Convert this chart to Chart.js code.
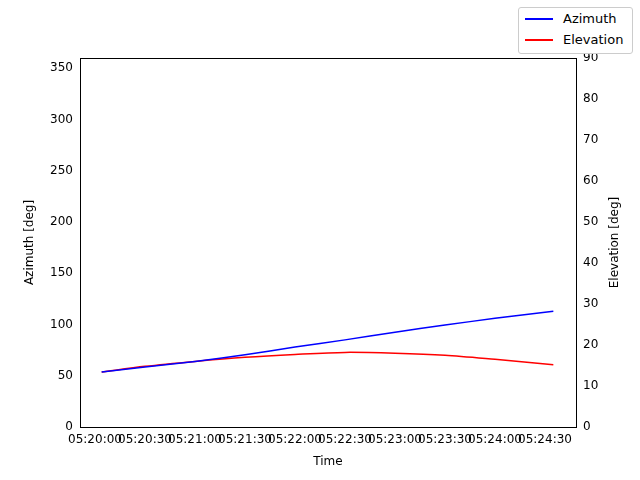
<!DOCTYPE html><html><head><script src="https://cdn.jsdelivr.net/npm/chart.js@4"></script>
<style>body{margin:0;background:#fff}#w{position:relative;width:640px;height:480px}
#lg{position:absolute;left:518px;top:7px;width:113px;height:45px;border:1px solid #ccc;border-radius:3px;background:#fff;font:13px "DejaVu Sans";}
#lg div{position:absolute;left:6px;display:flex;align-items:center}
#lg span{display:inline-block;width:28px;height:2px;margin-right:10px}</style></head><body>
<div id="w"><canvas id="c" width="640" height="480"></canvas>
<div id="lg"><div style="top:3px"><span style="background:blue"></span>Azimuth</div><div style="top:24px"><span style="background:red"></span>Elevation</div></div></div>
<script>
const times=[4,30,60,90,120,150,180,210,240,275];
const azimuth=[53.7,58.5,64,70.5,78,85,92.5,99.5,106,113];
const elevation=[13.4,14.8,16.0,17.0,17.7,18.2,18.0,17.5,16.5,15.2];
const xTicks=[0,30,60,90,120,150,180,210,240,270];
const azTicks=[0,50,100,150,200,250,300,350];
function fmt(s){const m=20+Math.floor(s/60),ss=s%60;return '05:'+m+':'+String(ss).padStart(2,'0');}
const f={family:'DejaVu Sans',size:12};
new Chart(document.getElementById('c'),{type:'line',data:{datasets:[
{data:times.map((t,i)=>({x:t,y:azimuth[i]})),borderColor:'blue',borderWidth:1.5,pointRadius:0,yAxisID:'y',tension:0.3},
{data:times.map((t,i)=>({x:t,y:elevation[i]})),borderColor:'red',borderWidth:1.5,pointRadius:0,yAxisID:'y2',tension:0.3}]},
options:{responsive:false,animation:false,layout:{padding:{top:58,left:0,right:0,bottom:0}},plugins:{legend:{display:false},tooltip:{enabled:false}},
scales:{x:{type:'linear',min:-9,max:288.6,afterFit:a=>{a.height=53},afterBuildTicks:a=>{a.ticks=xTicks.map(v=>({value:v}))},grid:{display:false,tickLength:4,tickColor:'#000'},border:{color:'#000'},ticks:{color:'#000',font:f,maxRotation:0,autoSkip:false,padding:2,callback:v=>fmt(v)}},
y:{position:'left',min:0,max:360,afterFit:a=>{a.width=80},afterBuildTicks:a=>{a.ticks=azTicks.map(v=>({value:v}))},grid:{display:false,tickLength:4,tickColor:'#000'},border:{color:'#000'},ticks:{color:'#000',font:f}},
y2:{position:'right',min:0,max:90,afterFit:a=>{a.width=64},grid:{display:false,tickLength:4,tickColor:'#000'},border:{color:'#000'},ticks:{stepSize:10,color:'#000',font:f}}}},
plugins:[{id:'top',afterDraw(c){const a=c.chartArea,x=c.ctx;x.save();x.strokeStyle='#000';x.lineWidth=1;x.beginPath();x.moveTo(a.left,a.top+.5);x.lineTo(a.right,a.top+.5);x.stroke();
x.fillStyle='#000';x.font='12px "DejaVu Sans"';x.textAlign='center';x.textBaseline='middle';
x.fillText('Time',(a.left+a.right)/2,462);
const cy=(a.top+a.bottom)/2;
x.translate(30,cy);x.rotate(-Math.PI/2);x.fillText('Azimuth [deg]',0,0);x.setTransform(1,0,0,1,0,0);
x.translate(615,cy);x.rotate(-Math.PI/2);x.fillText('Elevation [deg]',0,0);x.restore();}}]});
</script></body></html>
